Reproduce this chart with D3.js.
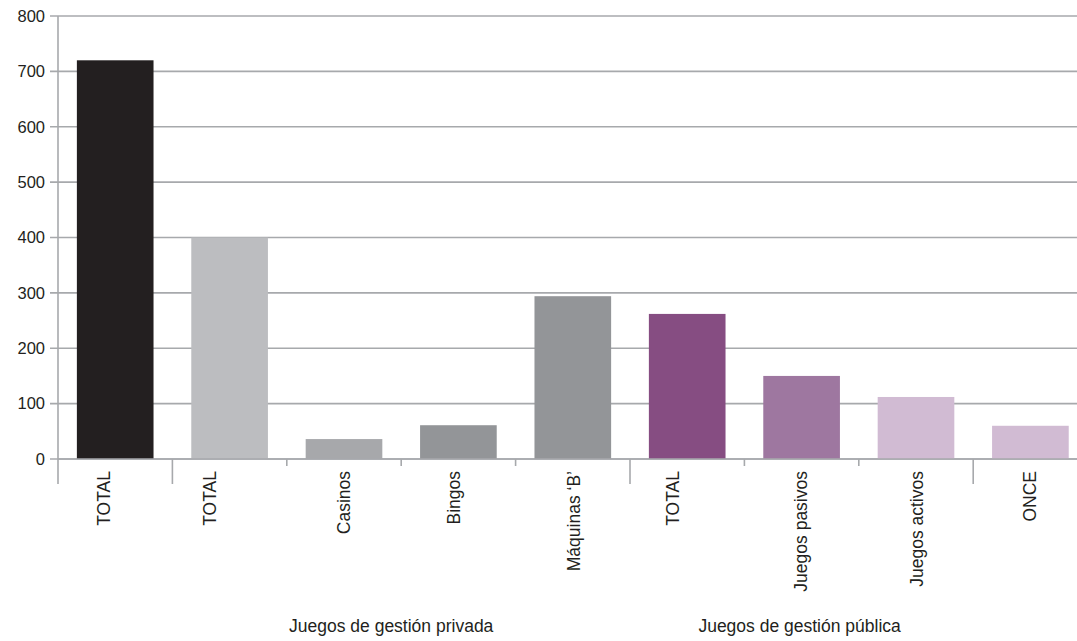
<!DOCTYPE html>
<html>
<head>
<meta charset="utf-8">
<script src="https://cdn.jsdelivr.net/npm/d3@7"></script>
<style>
  html, body { margin: 0; padding: 0; background: #fff; }
  svg { display: block; }
  text { font-family: "Liberation Sans", Arial, sans-serif; fill: #231f20; }
</style>
</head>
<body>
<svg id="chart" width="1077" height="641"></svg>
<script>
const categories = ["TOTAL", "TOTAL", "Casinos", "Bingos", "Máquinas ‘B’", "TOTAL", "Juegos pasivos", "Juegos activos", "ONCE"];
const values = [720, 400, 36, 61, 294, 262, 150, 112, 60];
const barColors = ["#231f20", "#bcbdc0", "#a7a8ab", "#939598", "#939598", "#864d82", "#9e77a0", "#d1bbd3", "#d1bbd3"];
const yTickValues = [0, 100, 200, 300, 400, 500, 600, 700, 800];
const groupLabels = ["Juegos de gestión privada", "Juegos de gestión pública"];
const groupBoundaries = [0, 1, 5, 8];
const labelShift = [-11, -20, 0, -5, 1, -14, -1, 1, -1];

const svg = d3.select("#chart");
const left = 58, step = 114.4, yTop = 16, yZero = 459;
const gridColor = "#a7a9ac";

const x = d3.scaleBand()
  .domain(d3.range(categories.length))
  .range([left, left + step * categories.length])
  .paddingInner(0.33)
  .paddingOuter(0.165);

const y = d3.scaleLinear().domain([0, 800]).range([yZero, yTop]);

// gridlines + left ticks
svg.append("g").selectAll("line.grid")
  .data(yTickValues)
  .join("line")
  .attr("x1", left - 8)
  .attr("x2", 1077)
  .attr("y1", d => y(d))
  .attr("y2", d => y(d))
  .attr("stroke", gridColor)
  .attr("stroke-width", 1.6);

// y tick labels
svg.append("g").selectAll("text")
  .data(yTickValues)
  .join("text")
  .attr("x", 45)
  .attr("y", d => y(d))
  .attr("dy", "0.35em")
  .attr("text-anchor", "end")
  .attr("font-size", 16.5)
  .text(d => d);

// bars
svg.append("g").selectAll("rect")
  .data(values)
  .join("rect")
  .attr("x", (d, i) => x(i))
  .attr("width", x.bandwidth())
  .attr("y", d => y(d))
  .attr("height", d => y(0) - y(d))
  .attr("fill", (d, i) => barColors[i]);

// zero line redraw on top
svg.append("line")
  .attr("x1", left).attr("x2", 1077)
  .attr("y1", y(0)).attr("y2", y(0))
  .attr("stroke", gridColor).attr("stroke-width", 1.6);

// y axis vertical line
svg.append("line")
  .attr("x1", left).attr("x2", left)
  .attr("y1", y(800)).attr("y2", 484)
  .attr("stroke", gridColor).attr("stroke-width", 1.6);

// category separators
const sepIdx = d3.range(categories.length);
svg.append("g").selectAll("line")
  .data(sepIdx.filter(i => i > 0))
  .join("line")
  .attr("x1", i => x(i) - x.step() * 0.165)
  .attr("x2", i => x(i) - x.step() * 0.165)
  .attr("y1", y(0))
  .attr("y2", i => groupBoundaries.includes(i) ? 484 : 466)
  .attr("stroke", gridColor).attr("stroke-width", 1.6);

// category labels
svg.append("g").selectAll("text")
  .data(categories)
  .join("text")
  .attr("transform", (d, i) => `translate(${x(i) + x.bandwidth() / 2 + labelShift[i]},471) rotate(-90)`)
  .attr("dy", "0.35em")
  .attr("text-anchor", "end")
  .attr("font-size", 17.5)
  .text(d => d);

// group labels
const privX = (x(2) + x(3) + x.bandwidth()) / 2 - 10;
const pubX = x(6) + x.bandwidth() / 2 - 2;
svg.append("g").selectAll("text")
  .data(groupLabels)
  .join("text")
  .attr("x", (d, i) => i === 0 ? privX : pubX)
  .attr("y", 632)
  .attr("text-anchor", "middle")
  .attr("font-size", 17.5)
  .text(d => d);
</script>
</body>
</html>
